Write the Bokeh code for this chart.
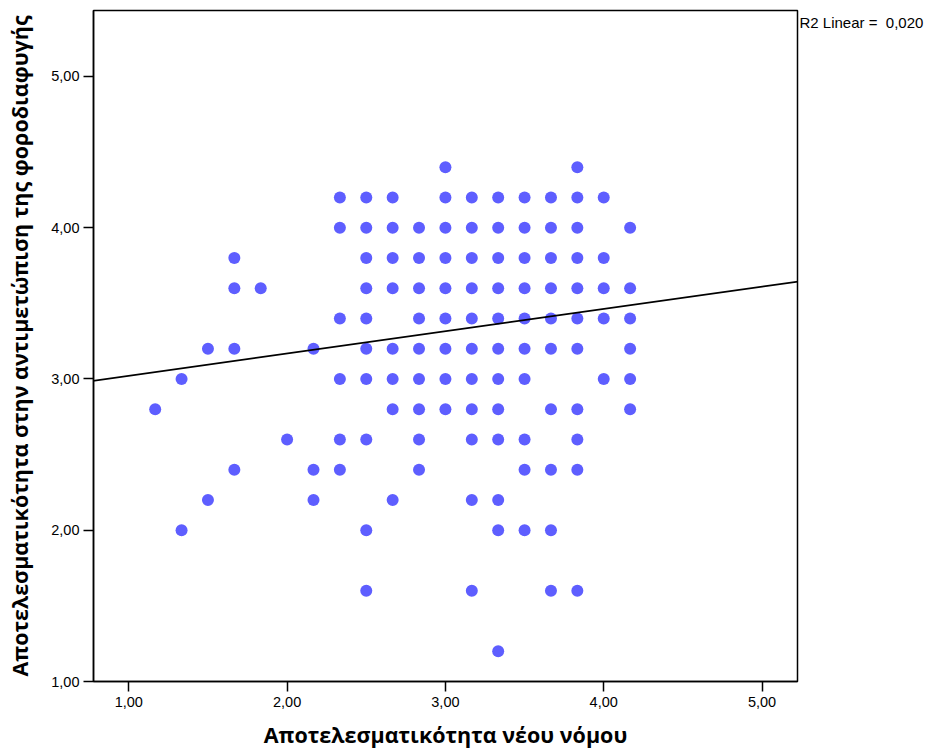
from bokeh.plotting import figure
from bokeh.models import Slope, Label, FixedTicker, CustomJSTickFormatter, Range1d
from bokeh.embed import file_html
from bokeh.resources import INLINE

# ---- data ----
x_levels = [1.1667, 1.3333, 1.5, 1.6667, 1.8333, 2.0, 2.1667, 2.3333, 2.5, 2.6667,
            2.8333, 3.0, 3.1667, 3.3333, 3.5, 3.6667, 3.8333, 4.0, 4.1667]
y_by_level = [
    [2.8],
    [3.0, 2.0],
    [3.2, 2.2],
    [3.8, 3.6, 3.2, 2.4],
    [3.6],
    [2.6],
    [3.2, 2.4, 2.2],
    [4.2, 4.0, 3.4, 3.0, 2.6, 2.4],
    [4.2, 4.0, 3.8, 3.6, 3.4, 3.2, 3.0, 2.6, 2.0, 1.6],
    [4.2, 4.0, 3.8, 3.6, 3.2, 3.0, 2.8, 2.2],
    [4.0, 3.8, 3.6, 3.4, 3.2, 3.0, 2.8, 2.6, 2.4],
    [4.4, 4.2, 4.0, 3.8, 3.6, 3.4, 3.2, 3.0, 2.8],
    [4.2, 4.0, 3.8, 3.6, 3.4, 3.2, 3.0, 2.8, 2.6, 2.2, 1.6],
    [4.2, 4.0, 3.8, 3.6, 3.4, 3.2, 3.0, 2.8, 2.6, 2.2, 2.0, 1.2],
    [4.2, 4.0, 3.8, 3.6, 3.4, 3.2, 3.0, 2.6, 2.4, 2.0],
    [4.2, 4.0, 3.8, 3.6, 3.4, 3.2, 2.8, 2.4, 2.0, 1.6],
    [4.4, 4.2, 4.0, 3.8, 3.6, 3.4, 3.2, 2.8, 2.6, 2.4, 1.6],
    [4.2, 3.8, 3.6, 3.4, 3.0],
    [4.0, 3.6, 3.4, 3.2, 3.0, 2.8],
]
fit_intercept = 2.8736
fit_slope = 0.1474
r2_text = "R2 Linear =\u00a0 0,020"
x_ticks = [1.0, 2.0, 3.0, 4.0, 5.0]
y_ticks = [1.0, 2.0, 3.0, 4.0, 5.0]
x_title = "Αποτελεσματικότητα νέου νόμου"
y_title = "Αποτελεσματικότητα στην αντιμετώπιση της φοροδιαφυγής"

xs, ys = [], []
for xv, yl in zip(x_levels, y_by_level):
    for yv in yl:
        xs.append(xv)
        ys.append(yv)

p = figure(width=929, height=752, output_backend="svg", toolbar_location=None,
           x_range=Range1d(0.777, 5.224), y_range=Range1d(1.0, 5.436),
           min_border_left=93, min_border_right=132, min_border_top=10,
           min_border_bottom=71)
p.xgrid.visible = False
p.ygrid.visible = False
p.outline_line_color = "black"
p.outline_line_width = 1.5
p.background_fill_color = "white"
p.border_fill_color = "white"

fmt = CustomJSTickFormatter(code="return tick.toFixed(2).replace('.', ',');")
for ax, ticks in ((p.xaxis[0], x_ticks), (p.yaxis[0], y_ticks)):
    ax.ticker = FixedTicker(ticks=ticks)
    ax.formatter = fmt
    ax.minor_tick_line_color = None
    ax.major_tick_in = 0
    ax.major_tick_out = 10
    ax.axis_line_color = "black"
    ax.axis_line_width = 1.5
    ax.major_tick_line_color = "black"
    ax.major_tick_line_width = 1.5
    ax.major_label_text_font = "Liberation Sans"
    ax.major_label_text_font_size = "14.5px"
    ax.major_label_text_color = "black"
    ax.axis_label_text_font = "Open Sans"
    ax.axis_label_text_font_style = "bold"
    ax.axis_label_text_font_size = "21.5px"
    ax.axis_label_text_color = "black"

p.xaxis.major_label_standoff = 5
p.yaxis.major_label_standoff = 4
p.xaxis.axis_label = x_title
p.yaxis.axis_label = y_title
p.xaxis.axis_label_standoff = 10
p.yaxis.axis_label_standoff = 14

p.scatter(xs, ys, size=12, color="#5E5EFF", line_color=None)

p.add_layout(Slope(gradient=fit_slope, y_intercept=fit_intercept,
                   line_color="black", line_width=1.8))

r2_label = Label(x=2, y=659, x_units="screen", y_units="screen", text=r2_text,
                 text_font="Liberation Sans", text_font_size="15px",
                 text_baseline="middle", text_align="left", text_color="black")
p.add_layout(r2_label, "right")

open("out.html", "w").write(file_html(p, INLINE))
